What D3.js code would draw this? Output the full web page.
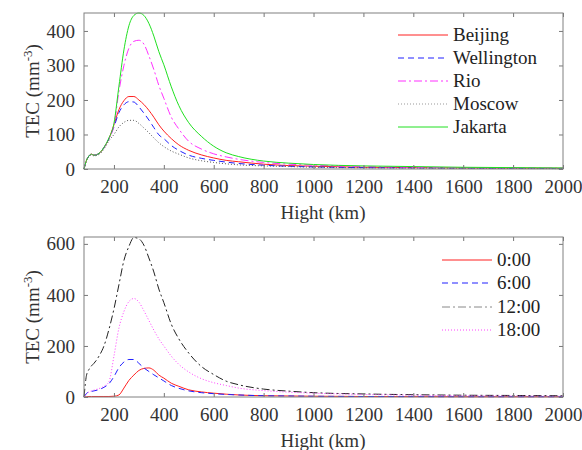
<!DOCTYPE html>
<html>
<head>
<meta charset="utf-8">
<script src="https://cdn.jsdelivr.net/npm/d3@7"></script>
<style>
  body { margin: 0; background: #fff; }
</style>
</head>
<body>
<script>
// heights (km) shared by all curves
const heights = [80, 90, 100, 110, 120, 140, 160, 180, 200, 220, 240, 260, 280, 300, 320, 340, 360, 380, 400,
  430, 460, 500, 550, 600, 650, 700, 800, 900, 1000, 1200, 1400, 1600, 1800, 2000];

// top panel: cities
const beijing    = [0, 25, 38, 43, 40, 45, 62, 88, 128, 172, 198, 210, 210, 200, 187, 170, 150, 128, 110,
  88, 70, 54, 41, 32, 25, 21, 14, 10, 8, 5, 4, 3, 2.5, 2];
const wellington = [0, 25, 38, 43, 40, 45, 62, 88, 122, 163, 186, 195, 194, 180, 162, 142, 120, 99, 88,
  68, 54, 40, 31, 25, 20, 16, 11, 8, 6, 4, 3, 2.5, 2, 1.5];
const rio        = [0, 25, 38, 43, 40, 45, 62, 88, 125, 225, 300, 350, 370, 373, 362, 328, 288, 242, 205,
  150, 116, 80, 58, 44, 35, 28, 19, 14, 11, 7, 5, 4, 3, 2.5];
const moscow     = [0, 24, 36, 41, 38, 42, 58, 82, 100, 122, 135, 141, 141, 132, 119, 105, 90, 76, 65,
  52, 43, 32, 24, 19, 15, 12, 9, 7, 5, 3.5, 2.5, 2, 1.5, 1];
const jakarta    = [0, 25, 38, 43, 40, 45, 63, 90, 132, 240, 345, 415, 445, 452, 445, 422, 385, 340, 302,
  238, 184, 134, 95, 66, 47, 36, 23, 17, 13, 9, 7, 5, 4, 3];

// bottom panel: local time
const t0  = [0, 1, 2, 2, 2, 2, 2, 2, 3, 8, 35, 65, 86, 104, 112, 114, 105, 86, 74,
  54, 42, 28, 20, 15, 11, 8, 5, 4, 3, 2, 1.5, 1, 1, 1];
const t6  = [0, 14, 20, 22, 24, 29, 38, 52, 80, 115, 137, 147, 147, 132, 114, 100, 87, 75, 63,
  45, 34, 24, 17, 13, 10, 8, 5, 4, 3, 2, 1.5, 1, 1, 1];
const t12 = [0, 85, 108, 122, 132, 160, 200, 265, 345, 440, 535, 590, 625, 620, 595, 545, 490, 423, 370,
  285, 228, 172, 120, 88, 62, 48, 31, 23, 17, 12, 9, 7, 6, 5];
const t18 = [0, 12, 20, 24, 27, 33, 42, 60, 160, 270, 335, 374, 386, 372, 338, 300, 262, 228, 200,
  160, 128, 98, 72, 56, 45, 35, 25, 19, 15, 10, 7, 5, 4, 3];

const xTicks = [200, 400, 600, 800, 1000, 1200, 1400, 1600, 1800, 2000];
const topYTicks = [0, 100, 200, 300, 400];
const bottomYTicks = [0, 200, 400, 600];

const FONT = "Liberation Serif";

const svg = d3.select("body").append("svg")
  .attr("width", 582)
  .attr("height", 450);

function drawPanel(opts) {
  let x = d3.scaleLinear().domain([80, 2000]).range([84, 563]);
  let y = d3.scaleLinear().domain([0, opts.yMax]).range([opts.bottom, opts.top]);
  let g = svg.append("g");

  // curves
  let line = d3.line()
    .x((d) => x(d[0]))
    .y((d) => y(d[1]))
    .curve(d3.curveMonotoneX);
  opts.series.forEach((s) => {
    g.append("path")
      .datum(heights.map((h, i) => [h, s.values[i]]))
      .attr("d", line)
      .attr("fill", "none")
      .attr("stroke", s.color)
      .attr("stroke-width", 1)
      .attr("stroke-dasharray", s.dash);
  });

  // axes, ticks pointing inward
  let tidy = (sel) => {
    sel.attr("font-family", null).attr("font-size", null);
    sel.select(".domain").remove();
    sel.selectAll(".tick line").attr("stroke", "#777");
    sel.selectAll(".tick text")
      .attr("fill", "#333")
      .attr("font-family", FONT)
      .attr("font-size", 19);
  };
  g.append("g").attr("transform", `translate(0,${opts.bottom})`)
    .call(d3.axisBottom(x).tickValues(xTicks).tickFormat(d3.format("d"))
      .tickSizeInner(-4).tickSizeOuter(0).tickPadding(11))
    .call(tidy);
  g.append("g").attr("transform", `translate(0,${opts.top})`)
    .call(d3.axisTop(x).tickValues(xTicks).tickSizeInner(-4).tickSizeOuter(0).tickFormat(""))
    .call(tidy);
  g.append("g").attr("transform", "translate(84,0)")
    .call(d3.axisLeft(y).tickValues(opts.yTicks).tickFormat(d3.format("d"))
      .tickSizeInner(-4).tickSizeOuter(0).tickPadding(9))
    .call(tidy);
  g.append("g").attr("transform", "translate(563,0)")
    .call(d3.axisRight(y).tickValues(opts.yTicks).tickSizeInner(-4).tickSizeOuter(0).tickFormat(""))
    .call(tidy);

  // box
  g.append("rect")
    .attr("x", 84).attr("y", opts.top)
    .attr("width", 563 - 84).attr("height", opts.bottom - opts.top)
    .attr("fill", "none").attr("stroke", "#808080").attr("stroke-width", 1);

  // labels
  g.append("text")
    .attr("x", 323).attr("y", opts.bottom + 50)
    .attr("text-anchor", "middle")
    .attr("font-family", FONT)
    .attr("font-size", 19)
    .attr("fill", "#333")
    .text("Hight (km)");
  let yl = g.append("text")
    .attr("transform", `translate(39,${(opts.top + opts.bottom) / 2}) rotate(-90)`)
    .attr("text-anchor", "middle")
    .attr("font-family", FONT)
    .attr("font-size", 19)
    .attr("fill", "#333");
  yl.append("tspan").text("TEC (mm");
  yl.append("tspan").attr("dy", -7).attr("font-size", 13).text("-3");
  yl.append("tspan").attr("dy", 7).text(")");

  // legend, no box
  let leg = g.append("g");
  opts.series.forEach((s, i) => {
    let ly = opts.legY[i];
    leg.append("line")
      .attr("x1", opts.legX).attr("x2", opts.legX + 50)
      .attr("y1", ly).attr("y2", ly)
      .attr("stroke", s.legColor || s.color)
      .attr("stroke-width", 1)
      .attr("stroke-dasharray", s.dash);
    leg.append("text")
      .attr("x", opts.legX + 55).attr("y", ly + 6)
      .attr("font-family", FONT)
      .attr("font-size", 19)
      .attr("fill", "#222")
      .text(s.name);
  });
}

drawPanel({
  top: 13, bottom: 169, yMax: 452, yTicks: topYTicks,
  legX: 398, legY: [35, 58, 81, 104, 127],
  series: [
    { name: "Beijing", values: beijing, color: "#ff2020", dash: null },
    { name: "Wellington", values: wellington, color: "#2020ff", dash: "6,4" },
    { name: "Rio", values: rio, color: "#ff30ff", dash: "8,3,2,3" },
    { name: "Moscow", values: moscow, color: "#555", legColor: "#999", dash: "1,2" },
    { name: "Jakarta", values: jakarta, color: "#20e020", dash: null }
  ]
});

drawPanel({
  top: 237, bottom: 397, yMax: 627, yTicks: bottomYTicks,
  legX: 442, legY: [260, 283, 307, 330],
  series: [
    { name: "0:00", values: t0, color: "#ff2020", dash: null },
    { name: "6:00", values: t6, color: "#2020ff", dash: "6,4" },
    { name: "12:00", values: t12, color: "#222", legColor: "#888", dash: "8,3,2,3" },
    { name: "18:00", values: t18, color: "#ff40ff", dash: "1,2" }
  ]
});
</script>
</body>
</html>
